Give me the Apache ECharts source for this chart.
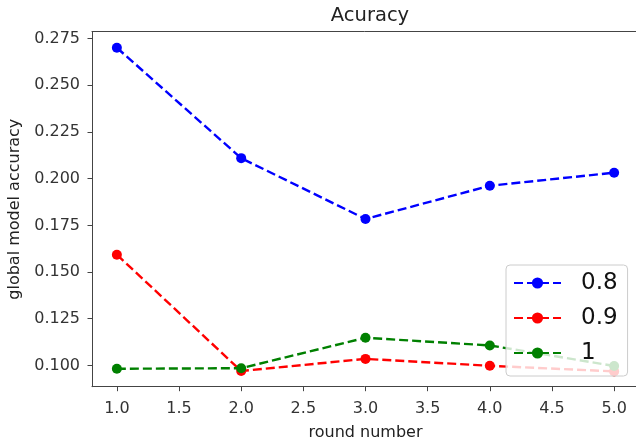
<!DOCTYPE html>
<html>
<head>
<meta charset="utf-8">
<script src="https://cdn.jsdelivr.net/npm/echarts@6/dist/echarts.min.js"></script>
<style>html,body{margin:0;padding:0;background:#fff}#c{width:636px;height:443px}</style>
</head>
<body>
<div id="c"></div>
<script>
const rounds = [1, 2, 3, 4, 5];
const seriesNames = ['0.8', '0.9', '1'];
const acc08 = [0.2701, 0.2110, 0.1784, 0.1962, 0.2032];
const acc09 = [0.1593, 0.0970, 0.1035, 0.0998, 0.0968];
const acc10 = [0.0982, 0.0985, 0.1148, 0.1107, 0.0997];
const xTicks = [1.0, 1.5, 2.0, 2.5, 3.0, 3.5, 4.0, 4.5, 5.0];
const yTicks = [0.100, 0.125, 0.150, 0.175, 0.200, 0.225, 0.250, 0.275];
const colors = ['#0000ff', '#ff0000', '#008000'];

const chart = echarts.init(document.getElementById('c'), null, {renderer: 'canvas'});
const font = 'DejaVu Sans';
const axisColor = '#444';
function mk(name, vals, color) {
  return {
    name: name, type: 'line',
    data: rounds.map((r, i) => [r, vals[i]]),
    symbol: 'circle', symbolSize: 10,
    itemStyle: {color: color},
    lineStyle: {color: color, width: 2.4, type: [9, 4]},
    emphasis: {disabled: true},
    animation: false
  };
}
chart.setOption({
  animation: false,
  title: {
    text: 'Acuracy', left: 365, top: 1, textAlign: 'center',
    textStyle: {fontFamily: font, fontSize: 19.5, fontWeight: 'normal', color: '#222'}
  },
  grid: {left: 92, top: 31.7, right: -3, bottom: 56.3, show: false,
         containLabel: false, outerBoundsMode: 'none'},
  xAxis: [{
    type: 'value', min: 0.8, max: 5.2,
    name: 'round number', nameLocation: 'middle', nameGap: 38,
    nameTextStyle: {fontFamily: font, fontSize: 16, color: '#222'},
    axisLine: {show: true, onZero: false, lineStyle: {color: axisColor}},
    axisTick: {show: true, length: 4.5, customValues: xTicks, lineStyle: {color: axisColor}},
    axisLabel: {customValues: xTicks, formatter: v => v.toFixed(1), fontFamily: font, fontSize: 16, color: '#333', margin: 14},
    splitLine: {show: false}
  }, {
    type: 'value', min: 0.8, max: 5.2, position: 'top',
    axisLine: {show: true, onZero: false, lineStyle: {color: axisColor}},
    axisTick: {show: false}, axisLabel: {show: false}, splitLine: {show: false}
  }],
  yAxis: {
    type: 'value', min: 0.0886, max: 0.2787,
    name: 'global model accuracy', nameLocation: 'middle', nameGap: 67,
    nameTextStyle: {fontFamily: font, fontSize: 16, color: '#222'},
    axisLine: {show: true, onZero: false, lineStyle: {color: axisColor}},
    axisTick: {show: true, length: 4.5, customValues: yTicks, lineStyle: {color: axisColor}},
    axisLabel: {customValues: yTicks, formatter: v => v.toFixed(3), fontFamily: font, fontSize: 16, color: '#333', margin: 12},
    splitLine: {show: false}
  },
  legend: {
    data: seriesNames,
    orient: 'vertical', left: 506, top: 265,
    backgroundColor: 'rgba(255,255,255,0.8)', borderColor: '#cccccc', borderWidth: 1, borderRadius: 4,
    padding: [6, 10, 11, 7],
    itemWidth: 47, itemHeight: 14, itemGap: 11,
    textStyle: {fontFamily: font, fontSize: 23, color: '#111', lineHeight: 24, padding: [0, 0, 0, 15]},
    selectedMode: false
  },
  series: [mk(seriesNames[0], acc08, colors[0]), mk(seriesNames[1], acc09, colors[1]), mk(seriesNames[2], acc10, colors[2])]
});
</script>
</body>
</html>
